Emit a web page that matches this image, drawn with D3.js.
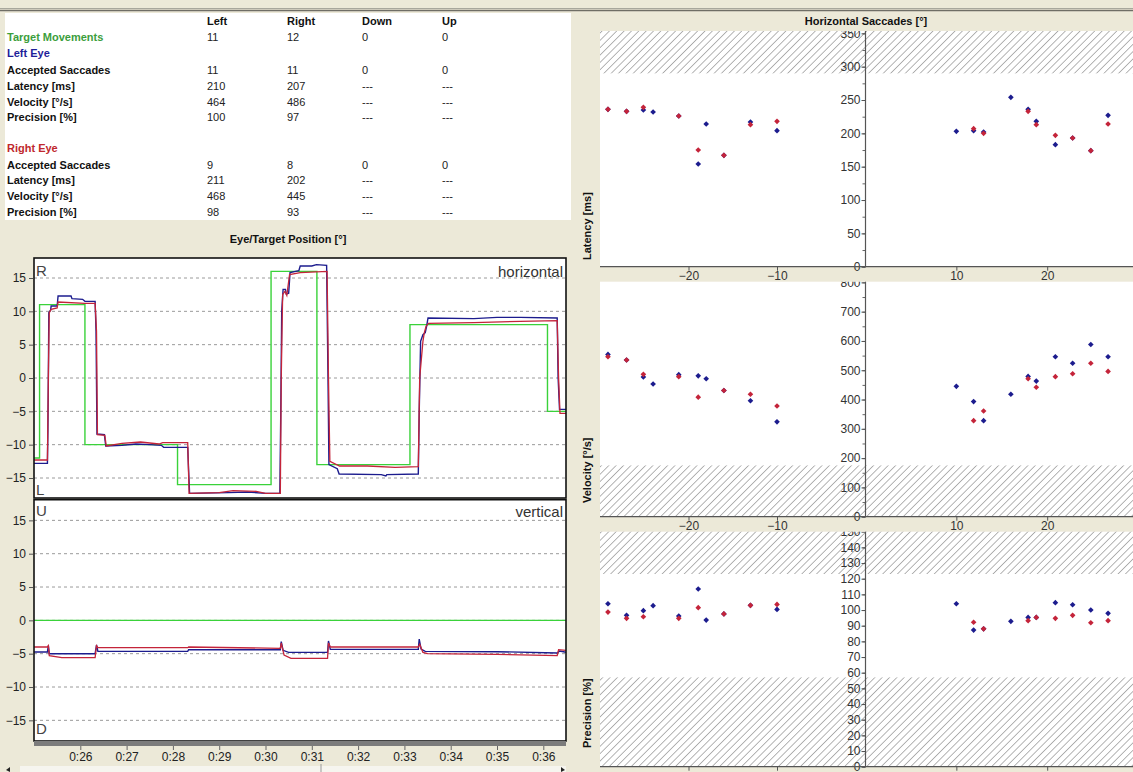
<!DOCTYPE html>
<html>
<head>
<meta charset="utf-8">
<script src="https://cdn.jsdelivr.net/npm/d3@7/dist/d3.min.js"></script>
<style>
  body { margin: 0; background: #ECE9D8; }
  svg { display: block; font-family: "Liberation Sans", Arial, sans-serif; }
</style>
</head>
<body>
<svg id="chart" width="1133" height="772"></svg>
<script>
// ---- table data ----
var colHeads = ["Left", "Right", "Down", "Up"];
var targetMoves = ["11", "12", "0", "0"];
var rowLabels = ["Accepted Saccades", "Latency [ms]", "Velocity [°/s]", "Precision [%]"];
var leftEyeRows = [["11", "11", "0", "0"], ["210", "207", "---", "---"], ["464", "486", "---", "---"], ["100", "97", "---", "---"]];
var rightEyeRows = [["9", "8", "0", "0"], ["211", "202", "---", "---"], ["468", "445", "---", "---"], ["98", "93", "---", "---"]];

// ---- eye / target position traces [time s, deg] ----
var timeTicks = [26, 27, 28, 29, 30, 31, 32, 33, 34, 35, 36];
var posTicks = [-15, -10, -5, 0, 5, 10, 15];
var targetH = [[25.0, -12], [25.12, 11], [26.1, -10], [28.1, -16], [30.12, 16], [31.11, -13], [33.12, 8], [36.09, -5], [36.5, -5]];
var targetV = [[25.0, 0], [36.5, 0]];
var leftEyeH = [[25.0, -12.8], [25.29, -12.8], [25.30, -8], [25.31, 0], [25.32, 9.8], [25.36, 10.2], [25.37, 10.8], [25.50, 10.8], [25.52, 12.3], [25.80, 12.3],
  [25.82, 11.9], [26.05, 11.8], [26.10, 11.5], [26.32, 11.5], [26.34, 7], [26.36, -8.4], [26.52, -8.5], [26.55, -10.2], [26.9, -10.1], [27.2, -9.9],
  [27.5, -10.0], [27.75, -10.1], [27.80, -10.4], [28.32, -10.4], [28.34, -14], [28.36, -17.3], [29.2, -17.2], [29.6, -17.1], [30.0, -17.3], [30.31, -17.3],
  [30.33, -5], [30.35, 10], [30.38, 13.3], [30.43, 13.3], [30.45, 12.6], [30.50, 12.7], [30.53, 15.8], [30.72, 16.1], [30.75, 16.8], [31.0, 16.8],
  [31.1, 17.0], [31.32, 16.9], [31.35, 0], [31.37, -13.0], [31.55, -13.6], [31.59, -14.4], [32.5, -14.5], [32.6, -14.7], [32.62, -14.5], [33.30, -14.4],
  [33.32, -5], [33.35, 5.5], [33.40, 6.5], [33.45, 6.8], [33.48, 7.8], [33.51, 9.0], [34.5, 8.9], [35.0, 9.1], [35.5, 9.1], [36.3, 9.0],
  [36.32, 0], [36.35, -4.7], [36.5, -4.7]];
var rightEyeH = [[25.0, -12.3], [25.29, -12.3], [25.31, 0], [25.33, 9.8], [25.37, 10.3], [25.50, 10.5], [25.52, 11.4], [26.1, 11.2], [26.32, 11.2],
  [26.35, 7], [26.37, -8.5], [26.53, -8.6], [26.56, -10.2], [26.9, -9.8], [27.3, -9.6], [27.7, -9.9], [27.78, -9.7], [28.32, -9.7], [28.35, -17.3],
  [29.0, -17.2], [29.3, -16.9], [29.8, -17.0], [30.0, -17.3], [30.32, -17.3], [30.34, 0], [30.37, 12.5], [30.42, 13.0], [30.46, 12.4], [30.52, 15.5],
  [30.75, 15.8], [31.33, 16.0], [31.36, 0], [31.39, -12.5], [31.6, -13.2], [32.2, -13.2], [32.8, -13.4], [33.30, -13.3], [33.33, 0], [33.40, 5.5],
  [33.43, 6.8], [33.47, 7.8], [33.52, 8.2], [34.5, 8.3], [35.5, 8.5], [36.3, 8.6], [36.33, 0], [36.36, -5.3], [36.5, -5.3]];
var leftEyeV = [[25.0, -4.75], [25.29, -4.75], [25.31, -3.8], [25.33, -5.0], [26.32, -5.0], [26.35, -3.7], [26.38, -4.65], [28.32, -4.65], [28.34, -4.4],
  [30.32, -4.4], [30.34, -3.2], [30.38, -4.5], [30.5, -4.8], [31.34, -4.8], [31.36, -3.1], [31.40, -4.35], [33.30, -4.35], [33.32, -2.8], [33.36, -4.3],
  [33.45, -4.65], [35.0, -4.7], [36.3, -4.9], [36.35, -4.6], [36.5, -4.8]];
var rightEyeV = [[25.0, -4.0], [25.29, -4.0], [25.31, -3.8], [25.33, -5.3], [25.6, -5.6], [26.32, -5.6], [26.35, -3.8], [26.38, -4.1], [28.32, -4.1],
  [28.34, -4.0], [30.32, -4.2], [30.34, -3.4], [30.4, -5.2], [30.55, -5.7], [31.34, -5.7], [31.36, -3.4], [31.40, -4.0], [33.30, -4.0], [33.33, -3.6],
  [33.40, -4.8], [33.5, -5.0], [35.0, -5.1], [36.3, -5.3], [36.33, -4.4], [36.5, -4.5]];

// ---- horizontal saccades (amplitude deg) ----
var leftEyeAmp = [-29.1, -27, -25.1, -24, -21.1, -18.9, -18, -16, -13, -10, 10, 11.9, 13, 16, 17.9, 18.8, 20.9, 22.8, 24.8, 26.7];
var leftEyeLat = [236, 233, 235, 232, 226, 154, 214, 167, 217, 204, 203, 204, 202, 254, 236, 218, 183, 193, 174, 227];
var leftEyeVel = [554, 535, 477, 453, 485, 481, 471, 431, 396, 324, 445, 393, 328, 418, 479, 463, 546, 524, 588, 546];
var leftEyePrec = [104, 96.6, 99.6, 102.8, 96.2, 113.4, 93.6, 97.5, 103, 100.4, 104, 87.2, 88, 92.8, 95.3, 95.3, 104.7, 103.4, 100, 97.9];
var rightEyeAmp = [-29.1, -27, -25.1, -21.1, -18.9, -16, -13, -10, 11.9, 13, 17.9, 18.8, 20.9, 22.8, 24.8, 26.7];
var rightEyeLat = [236, 233, 239, 226, 175, 167, 213, 218, 207, 200, 233, 213, 197, 193, 174, 214];
var rightEyeVel = [546, 535, 486, 478, 408, 431, 418, 378, 328, 361, 471, 442, 478, 488, 524, 496];
var rightEyePrec = [98.7, 94.7, 95.7, 94.7, 101.5, 97.5, 103, 103.6, 92.2, 88, 93.2, 95.3, 94.7, 96.6, 91.9, 93.2];
var ampTicksNeg = [-20, -10];
var ampTicksPos = [10, 20];

var blue = "#1c1c8e", red = "#c4243a", green = "#3ad23a";
var svg = d3.select("#chart");

// hatch pattern
svg.append("defs").append("pattern")
  .attr("id", "hatch").attr("patternUnits", "userSpaceOnUse")
  .attr("width", 5.2).attr("height", 5.2)
  .attr("patternTransform", "rotate(45)")
  .append("line").attr("x1", 0).attr("y1", 0).attr("x2", 0).attr("y2", 5.2)
  .attr("stroke", "#6a6a6a").attr("stroke-width", 1);

// top frame lines
svg.append("line").attr("x1", 0).attr("x2", 1133).attr("y1", 8.5).attr("y2", 8.5).attr("stroke", "#a8a79c");
svg.append("line").attr("x1", 0).attr("x2", 1133).attr("y1", 10.5).attr("y2", 10.5).attr("stroke", "#6f6e66").attr("stroke-width", 1.5);

// ================= table =================
svg.append("rect").attr("x", 5).attr("y", 13).attr("width", 566).attr("height", 207).attr("fill", "#fff");
var colX = [207, 287, 362, 442];
var tbl = svg.append("g").style("font-size", "11px");
colHeads.forEach(function(h, i) {
  tbl.append("text").attr("x", colX[i]).attr("y", 25).attr("font-weight", "bold").attr("fill", "#111").text(h);
});
function rowLabel(txt, y, col) {
  tbl.append("text").attr("x", 7).attr("y", y).attr("font-weight", "bold").attr("fill", col).text(txt);
}
function rowVals(vals, y) {
  vals.forEach(function(v, i) {
    tbl.append("text").attr("x", colX[i]).attr("y", y).attr("fill", "#222").text(v);
  });
}
rowLabel("Target Movements", 41, "#3c9e3c"); rowVals(targetMoves, 41);
rowLabel("Left Eye", 57, "#1e1e9a");
rowLabels.forEach(function(l, i) { rowLabel(l, 74 + i * 15.8, "#111"); rowVals(leftEyeRows[i], 74 + i * 15.8); });
rowLabel("Right Eye", 152, "#c0282d");
rowLabels.forEach(function(l, i) { rowLabel(l, 168.5 + i * 15.8, "#111"); rowVals(rightEyeRows[i], 168.5 + i * 15.8); });

// ================= eye / target position =================
svg.append("text").attr("x", 288).attr("y", 243).attr("text-anchor", "middle")
  .attr("font-weight", "bold").style("font-size", "11px").attr("fill", "#111").text("Eye/Target Position [°]");

var xT = d3.scaleLinear().domain([25.0, 36.49]).range([34, 566]);
var panels = [
  { y0: 258, y1: 498, dom: [-18, 18], tgt: targetH, le: leftEyeH, re: rightEyeH, top: "R", bot: "L", name: "horizontal", topY: 276, botY: 495, nameY: 277 },
  { y0: 499.7, y1: 741, dom: [-18.1, 18.1], tgt: targetV, le: leftEyeV, re: rightEyeV, top: "U", bot: "D", name: "vertical", topY: 516, botY: 734, nameY: 517 }
];
panels.forEach(function(p, k) {
  var y = d3.scaleLinear().domain(p.dom).range([p.y1, p.y0]);
  var g = svg.append("g");
  var cid = "clipP" + k;
  svg.append("clipPath").attr("id", cid).append("rect")
    .attr("x", 34).attr("y", p.y0).attr("width", 532).attr("height", p.y1 - p.y0);
  g.append("rect").attr("x", 34).attr("y", p.y0).attr("width", 532).attr("height", p.y1 - p.y0).attr("fill", "#fff");
  g.selectAll(".grid").data(posTicks).enter().append("line")
    .attr("x1", 34).attr("x2", 566).attr("y1", function(d) { return y(d); }).attr("y2", function(d) { return y(d); })
    .attr("stroke", "#9a9a9a").attr("stroke-dasharray", "3,3");
  var ax = svg.append("g").attr("transform", "translate(33,0)")
    .call(d3.axisLeft(y).tickValues(posTicks).tickSize(4).tickPadding(3));
  ax.select(".domain").remove();
  ax.selectAll("line").attr("stroke", "#555");
  ax.selectAll("text").style("font-size", "12px").attr("fill", "#222").style("font-family", "Liberation Sans, Arial, sans-serif");
  g.append("text").attr("x", 36).attr("y", p.topY).style("font-size", "15px").attr("fill", "#444").text(p.top);
  g.append("text").attr("x", 36).attr("y", p.botY).style("font-size", "15px").attr("fill", "#444").text(p.bot);
  g.append("text").attr("x", 563).attr("y", p.nameY).attr("text-anchor", "end").style("font-size", "15px").attr("fill", "#333").text(p.name);
  var stepLine = d3.line().x(function(d) { return xT(d[0]); }).y(function(d) { return y(d[1]); }).curve(d3.curveStepAfter);
  var line = d3.line().x(function(d) { return xT(d[0]); }).y(function(d) { return y(d[1]); });
  var tr = g.append("g").attr("clip-path", "url(#" + cid + ")").attr("fill", "none");
  tr.append("path").attr("d", stepLine(p.tgt)).attr("stroke", green).attr("stroke-width", 1.4);
  tr.append("path").attr("d", line(p.le)).attr("stroke", blue).attr("stroke-width", 1.4);
  tr.append("path").attr("d", line(p.re)).attr("stroke", red).attr("stroke-width", 1.3);
  g.append("rect").attr("x", 34).attr("y", p.y0).attr("width", 532).attr("height", p.y1 - p.y0)
    .attr("fill", "none").attr("stroke", "#111").attr("stroke-width", 1.6);
});

// time axis bar
svg.append("rect").attr("x", 34).attr("y", 741).attr("width", 532).attr("height", 5).attr("fill", "#7c7c7c");
var tAx = svg.append("g").attr("transform", "translate(0,746)")
  .call(d3.axisBottom(xT).tickValues(timeTicks).tickSize(4).tickPadding(2).tickFormat(function(d) { return "0:" + d; }));
tAx.select(".domain").remove();
tAx.selectAll("line").attr("stroke", "#666");
tAx.selectAll("text").style("font-size", "12px").attr("fill", "#222").style("font-family", "Liberation Sans, Arial, sans-serif");

// scrollbar strip
svg.append("rect").attr("x", 20).attr("y", 766).attr("width", 546).attr("height", 6).attr("fill", "#f6f5ef");
svg.append("line").attr("x1", 321).attr("x2", 321).attr("y1", 764).attr("y2", 772).attr("stroke", "#999");
svg.append("path").attr("d", "M6,770 L10,767 L10,772 Z").attr("fill", "#222");
svg.append("path").attr("d", "M565,770 L561,767 L561,772 Z").attr("fill", "#222");

// ================= horizontal saccades =================
svg.append("text").attr("x", 866).attr("y", 25).attr("text-anchor", "middle")
  .attr("font-weight", "bold").style("font-size", "11px").attr("fill", "#111").text("Horizontal Saccades [°]");

var xNeg = d3.scaleLinear().domain([-30, 0]).range([600, 865.5]);
var xPos = d3.scaleLinear().domain([0, 29.5]).range([865.5, 1133.5]);
function xAmp(a) { return a < 0 ? xNeg(a) : xPos(a); }

var sPanels = [
  { y0: 31, y1: 266.7, dom: [0, 353.5], major: 50, minor: 25, hatch: [[290, 353.5]], lab: "Latency [ms]", labY: 260, le: leftEyeLat, re: rightEyeLat, xLabels: true },
  { y0: 281.7, y1: 516.7, dom: [0, 802.3], major: 100, minor: 50, hatch: [[0, 175]], lab: "Velocity [°/s]", labY: 503, le: leftEyeVel, re: rightEyeVel, xLabels: true },
  { y0: 531.7, y1: 766.7, dom: [0, 150], major: 10, minor: 10, hatch: [[0, 57], [123, 150]], lab: "Precision [%]", labY: 748, le: leftEyePrec, re: rightEyePrec, xLabels: false }
];
var marker = d3.symbol().type(d3.symbolSquare).size(16);
sPanels.forEach(function(p, k) {
  var y = d3.scaleLinear().domain(p.dom).range([p.y1, p.y0]);
  var g = svg.append("g");
  g.append("rect").attr("x", 600).attr("y", p.y0).attr("width", 533).attr("height", p.y1 - p.y0).attr("fill", "#fff");
  g.selectAll(".hatch").data(p.hatch).enter().append("rect")
    .attr("x", 600).attr("width", 533)
    .attr("y", function(d) { return y(d[1]); })
    .attr("height", function(d) { return y(d[0]) - y(d[1]); })
    .attr("fill", "url(#hatch)");
  // y axis in the middle (labels clipped at the panel top)
  var cid = "clipY" + k;
  svg.append("clipPath").attr("id", cid).append("rect")
    .attr("x", -40).attr("y", p.y0).attr("width", 45).attr("height", p.y1 - p.y0 + 8);
  var minorG = g.append("g").attr("transform", "translate(865.5,0)")
    .call(d3.axisLeft(y).tickValues(d3.range(0, p.dom[1], p.minor)).tickSize(3).tickFormat(""));
  minorG.select(".domain").remove();
  minorG.selectAll("line").attr("stroke", "#666");
  var yAx = g.append("g").attr("transform", "translate(865.5,0)").attr("clip-path", "url(#" + cid + ")")
    .call(d3.axisLeft(y).tickValues(d3.range(0, p.dom[1] + 1, p.major)).tickSize(4).tickPadding(1));
  yAx.select(".domain").remove();
  yAx.selectAll("line").attr("stroke", "#555");
  yAx.selectAll("text").style("font-size", "12px").attr("fill", "#333").style("font-family", "Liberation Sans, Arial, sans-serif");
  g.append("line").attr("x1", 865.5).attr("x2", 865.5).attr("y1", p.y0).attr("y2", p.y1).attr("stroke", "#555").attr("stroke-width", 1.2);
  g.append("line").attr("x1", 600).attr("x2", 1133).attr("y1", p.y1).attr("y2", p.y1).attr("stroke", "#555").attr("stroke-width", 1.2);
  // x axes
  [[xNeg, ampTicksNeg], [xPos, ampTicksPos]].forEach(function(s) {
    var xa = g.append("g").attr("transform", "translate(0," + p.y1 + ")")
      .call(d3.axisBottom(s[0]).tickValues(s[1]).tickSize(4).tickPadding(1));
    xa.select(".domain").remove();
    xa.selectAll("line").attr("stroke", "#555");
    if (p.xLabels) {
      xa.selectAll("text").style("font-size", "12px").attr("fill", "#333").style("font-family", "Liberation Sans, Arial, sans-serif");
    } else {
      xa.selectAll("text").remove();
    }
  });
  // y label
  g.append("text").attr("transform", "translate(591," + p.labY + ") rotate(-90)")
    .attr("font-weight", "bold").style("font-size", "11px").attr("fill", "#111").text(p.lab);
  // points
  g.selectAll(".le").data(leftEyeAmp).enter().append("path")
    .attr("d", marker)
    .attr("transform", function(d, i) { return "translate(" + xAmp(d) + "," + y(p.le[i]) + ") rotate(45)"; })
    .attr("fill", blue);
  g.selectAll(".re").data(rightEyeAmp).enter().append("path")
    .attr("d", marker)
    .attr("transform", function(d, i) { return "translate(" + xAmp(d) + "," + y(p.re[i]) + ") rotate(45)"; })
    .attr("fill", red);
});
</script>
</body>
</html>
